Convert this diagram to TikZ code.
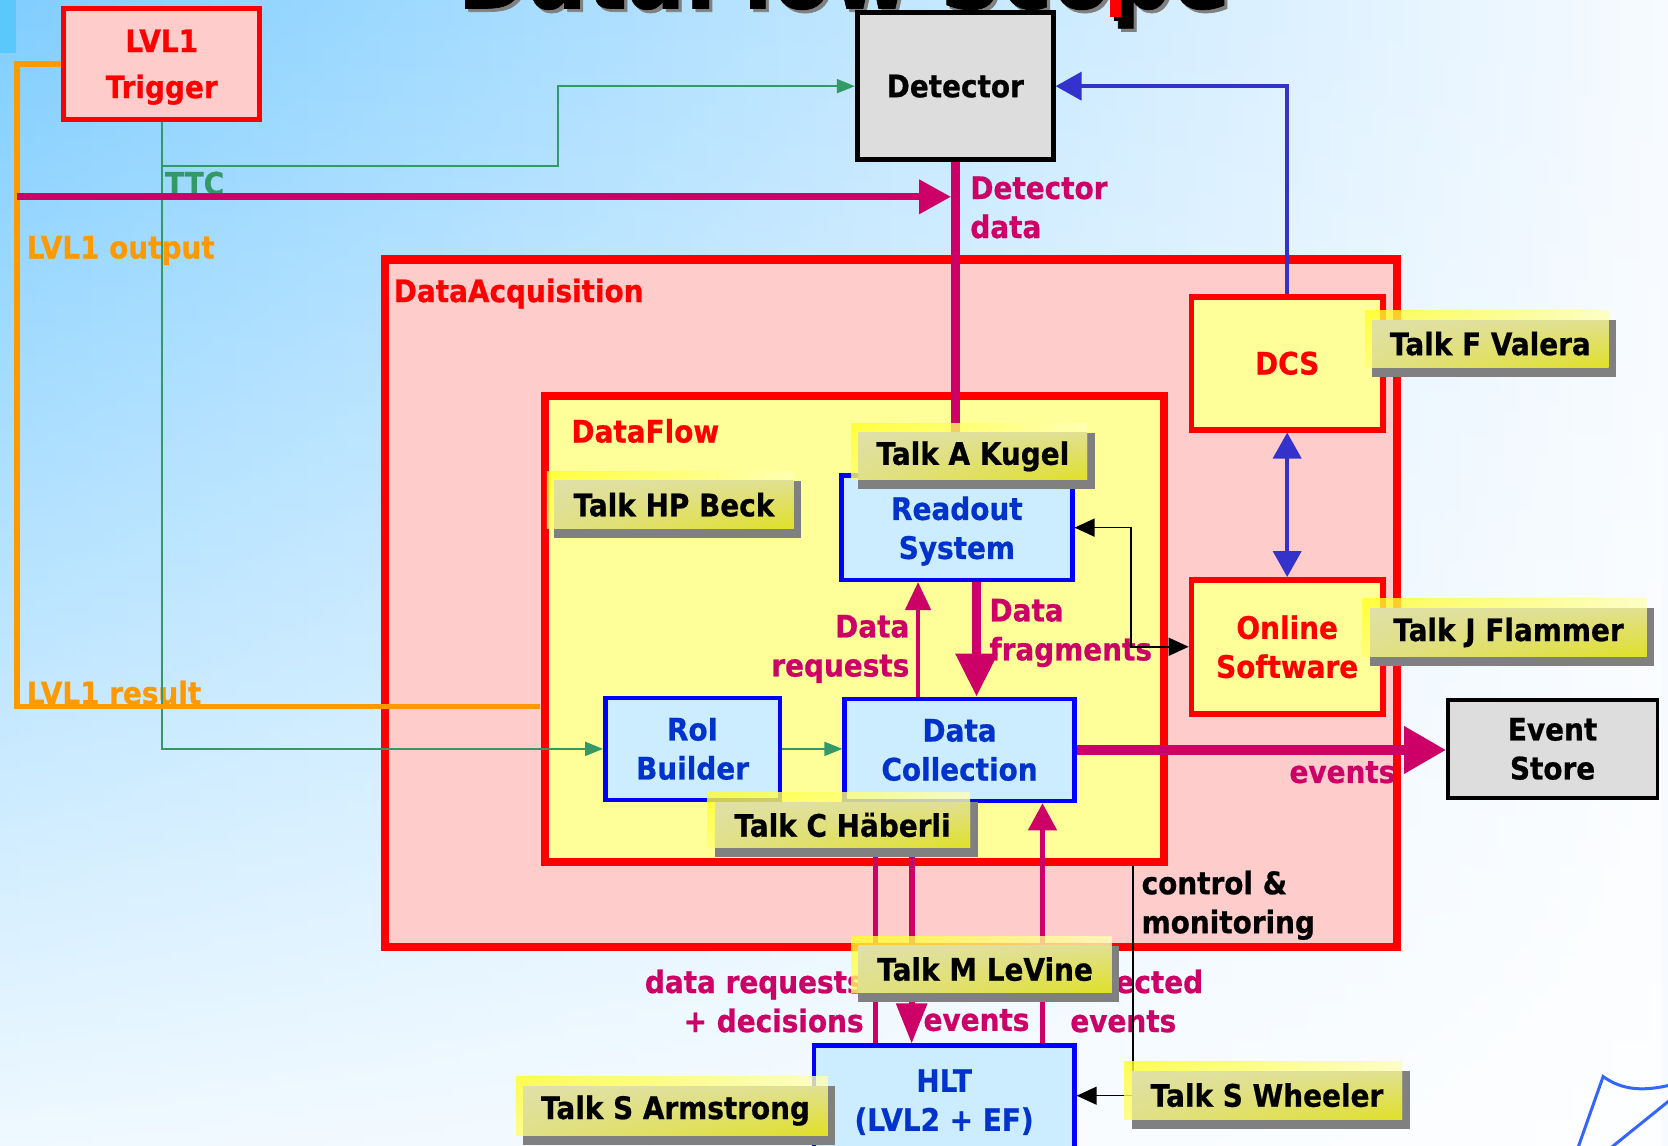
\documentclass[tikz,border=0pt]{standalone}
\usepackage{fontspec}
\newfontfamily\tahfam{DejaVu Sans}[FakeStretch=0.9, BoldFeatures={FakeBold=0.7}]
\usetikzlibrary{arrows.meta,fit,fadings,shadings}
\definecolor{bgA}{HTML}{80CEFF}
\definecolor{bgB}{HTML}{BDE5FF}
\definecolor{bgC}{HTML}{F7FBFF}
\definecolor{bgTop}{HTML}{5AC8FA}
\definecolor{dred}{HTML}{FF0000}
\definecolor{pinkfill}{HTML}{FFCCCC}
\definecolor{yelfill}{HTML}{FFFF99}
\definecolor{lbfill}{HTML}{CCECFF}
\definecolor{bblue}{HTML}{0000FF}
\definecolor{btext}{HTML}{0033CC}
\definecolor{mag}{HTML}{CC0066}
\definecolor{orng}{HTML}{FF9900}
\definecolor{grn}{HTML}{339966}
\definecolor{dcsb}{HTML}{3333CC}
\definecolor{gfill}{HTML}{DDDDDD}
\definecolor{shad}{HTML}{808080}
\definecolor{glowA}{HTML}{FFFF22}
\definecolor{glowB}{HTML}{FFFFB8}
\definecolor{glowC}{HTML}{FFFF70}
\definecolor{faceA}{HTML}{E0E0A8}
\definecolor{faceB}{HTML}{E0E090}
\definecolor{faceC}{HTML}{E0E088}
\definecolor{faceD}{HTML}{E0E028}
\definecolor{logoc}{HTML}{3366FF}
\newcommand\lblfont{\tahfam\bfseries\fontsize{31}{39}\selectfont}
\newcommand\trgfont{\tahfam\bfseries\fontsize{31}{46}\selectfont}
\newcommand\ttlfont{\tahfam\bfseries\fontsize{95}{95}\selectfont}
\tikzfading[name=vfade, top color=transparent!100, bottom color=transparent!0]
\tikzset{
 TipG/.tip={Triangle[length=18pt,width=14pt]},
 TipDD/.tip={Triangle[length=32pt,width=33pt]},
 TipB/.tip={Triangle[length=26pt,width=28pt]},
 TipDR/.tip={Triangle[length=28pt,width=25pt]},
 TipDF/.tip={Triangle[length=43pt,width=40pt]},
 TipEV/.tip={Triangle[length=42pt,width=45pt]},
 TipHE/.tip={Triangle[length=40pt,width=30pt]},
 TipSE/.tip={Triangle[length=27pt,width=28pt]},
 TipK/.tip={Triangle[length=20pt,width=18pt]},
 boxat/.style n args={4}{minimum width={(#3-#1)*1.0638pt}, minimum height={(#4-#2)*1.0638pt}, at={({(#1+#3)/2},{(#2+#4)/2})}},
}
\newcommand\talkbox[6]{%
 \fill[shad] ({#2+7},{#3+9}) rectangle ({#4+7},{#5+9});
 \shade[upper left=glowA, upper right=glowB, lower left=glowC, lower right=glowB, opacity=0.8] (#2,#3) rectangle (#4,#5);
 \shade[upper left=faceA, upper right=faceB, lower left=faceC, lower right=faceD] ({#2+7},{#3+9}) rectangle (#4,#5);
 \node[talk] (#1) at ({(#2+7+#4)/2},{(#3+9+#5)/2}) {#6};
}
\begin{document}
\begin{tikzpicture}[x=1.0638pt,y=-1.0638pt,
 every node/.style={inner sep=0pt},
 lab/.style={font=\lblfont, align=left},
 container/.style={draw=dred, line width=8.5pt, fill=pinkfill},
 yelbox/.style={draw=dred, line width=5.5pt, fill=yelfill, text=dred, font=\lblfont, align=center},
 bluebox/.style={draw=bblue, line width=4.5pt, fill=lbfill, text=btext, font=\lblfont, align=center},
 graybox/.style={draw=black, fill=gfill, text=black, font=\lblfont, align=center},
 ttc/.style={draw=grn, line width=2pt},
 magl/.style={draw=mag},
 dcsl/.style={draw=dcsb, line width=4pt},
 blk/.style={draw=black, line width=1.5pt},
 talk/.style={font=\lblfont, text=black},
 logo/.style={draw=logoc, line width=3pt, line cap=round},
]
\useasboundingbox (0,0) rectangle (1568,1077);
\begin{scope}
\clip (0,0) rectangle (1568,1077);
% background
\shade[left color=bgA, right color=bgC, middle color=bgB] (0,0) rectangle (1568,1077);
\fill[white, path fading=vfade, fill opacity=0.88] (0,0) rectangle (1568,1077);
\fill[bgTop] (0,0) rectangle (15,50);
% title (cut off at the top)
\node[font=\ttlfont, text=gray, anchor=base west] (ttlshadow) at (433,11) {DataFlow Scope};
\node[font=\ttlfont, text=black, anchor=base west] (ttl) at (430,8) {DataFlow Scope};
\fill[black] (1047,-5) rectangle (1058,20);
\fill[dred] (1043,-5) rectangle (1054,16);
% containers
\node[container, fit={(362,244)(1313,890)}] (dacq) {};
\node[draw=dred, line width=8pt, fill=yelfill, fit={(512,372)(1094,810)}] (dflow) {};
\node[lab, text=dred, anchor=base west] (dacqlab) at (370,284) {DataAcquisition};
\node[lab, text=dred, anchor=base west] (dflowlab) at (537,416) {DataFlow};
% boxes
\node[draw=dred, line width=5pt, fill=pinkfill, text=dred, font=\trgfont, align=center, text depth=0pt, boxat={60}{8}{244}{112}] (trig) {LVL1\\Trigger};
\node[graybox, line width=5pt, boxat={806}{12}{990}{150}] (det) {Detector};
\node[yelbox, boxat={1120}{279}{1300}{404}] (dcs) {DCS};
\node[yelbox, boxat={1120}{545}{1300}{671}] (online) {Online\\Software};
\node[graybox, line width=3.5pt, boxat={1361}{658}{1558}{750}] (es) {Event\\Store};
\node[bluebox, text depth=0pt, boxat={791}{447}{1008}{545}] (ros) {Readout\\System};
\node[bluebox, boxat={569}{656}{733}{752}] (roi) {RoI\\Builder};
\node[bluebox, boxat={794}{657}{1010}{753}] (dc) {Data\\Collection};
\node[bluebox, boxat={765}{983}{1010}{1089}] (hlt) {HLT\\(LVL2 + EF)};
% labels
\node[lab, text=grn, anchor=base west] (ttclab) at (155,183) {TTC};
\node[lab, text=orng, anchor=base west] (l1out) at (25,243) {LVL1 output};
\node[lab, text=orng, anchor=base west] (l1res) at (25,662) {LVL1 result};
\node[lab, text=mag, anchor=west] (ddlab) at (912,195) {Detector\\data};
\node[lab, text=mag, anchor=east, align=right] (drlab) at (855,610) {Data\\requests};
\node[lab, text=mag, anchor=west] (dfrlab) at (930,595) {Data\\fragments};
\node[lab, text=mag, anchor=base west] (evlab) at (1212,736) {events};
\node[lab, text=black, anchor=west] (cmlab) at (1073,851) {control \&\\monitoring};
\node[lab, text=mag, anchor=east, align=right] (drdlab) at (812,941) {data requests\\+ decisions};
\node[lab, text=mag, anchor=base west] (hevlab) at (868,969) {events};
\node[lab, text=mag, anchor=west] (selab) at (1006,941) {selected\\events};
% connectors
\coordinate (ttcA) at (152,156);
\coordinate (ttcB) at (525,81);
\draw[ttc, -TipG] (trig.south) -- (ttcA) -| (ttcB) -- (det.west);
\draw[ttc, -TipG] (ttcA) |- (roi.west);
\draw[ttc, -TipG] (roi.east) -- (roi.east -| dc.west);
\coordinate (orA) at (16,60);
\coordinate (orB) at (508,664);
\draw[draw=orng, line width=5.5pt, line join=miter] (trig.west) -- (orA) |- (orB);
\coordinate (magA) at (16,185);
\coordinate (magB) at (894,185);
\draw[magl, line width=7pt, -TipDD] (magA) -- (magB);
\draw[magl, line width=8.5pt] (det.south) -- (det.south |- ros.north);
\draw[dcsl, -TipB] (dcs.north) |- (det.east);
\draw[dcsl, TipB-TipB] (dcs.south) -- (online.north);
\draw[magl, line width=4.5pt, -TipDR] (dc.north -| 863,0) -- (ros.south -| 863,0);
\draw[magl, line width=9pt, -TipDF] (ros.south -| 918,0) -- (dc.north -| 918,0);
\coordinate (rosoA) at (1063,550);
\draw[blk, TipK-TipK] (ros.east) -| (rosoA) |- (online.west);
\draw[magl, line width=10pt, -TipEV] (dc.east) -- (dc.east -| es.west);
\draw[magl, line width=4.5pt] (dc.south -| 823,0) -- (hlt.north -| 823,0);
\draw[magl, line width=6pt, -TipHE] (dc.south -| 857,0) -- (hlt.north -| 857,0);
\draw[magl, line width=4.5pt, -TipSE] (hlt.north -| 980,0) -- (dc.south -| 980,0);
\coordinate (cmA) at (1065,1030);
\draw[blk, -TipK] (dflow.south -| 1065,0) -- (cmA) -- (cmA -| hlt.east);
% talk boxes
\talkbox{tvalera}{1283}{292}{1512}{345}{Talk F Valera}
\talkbox{tkugel}{800}{398}{1022}{451}{Talk A Kugel}
\talkbox{tbeck}{514}{443}{746}{497}{Talk HP Beck}
\talkbox{tflammer}{1281}{563}{1548}{617}{Talk J Flammer}
\talkbox{thaeberli}{665}{745}{912}{797}{Talk C Häberli}
\talkbox{tlevine}{800}{880}{1045}{933}{Talk M LeVine}
\talkbox{tarmstrong}{485}{1012}{778}{1067}{Talk S Armstrong}
\talkbox{twheeler}{1057}{998}{1318}{1052}{Talk S Wheeler}
% logo strokes
\draw[logo] (1483,1080) -- (1507,1012) .. controls (1525,1025) and (1545,1026) .. (1570,1020);
\draw[logo] (1513,1080) -- (1570,1034);
\end{scope}
\end{tikzpicture}
\end{document}
